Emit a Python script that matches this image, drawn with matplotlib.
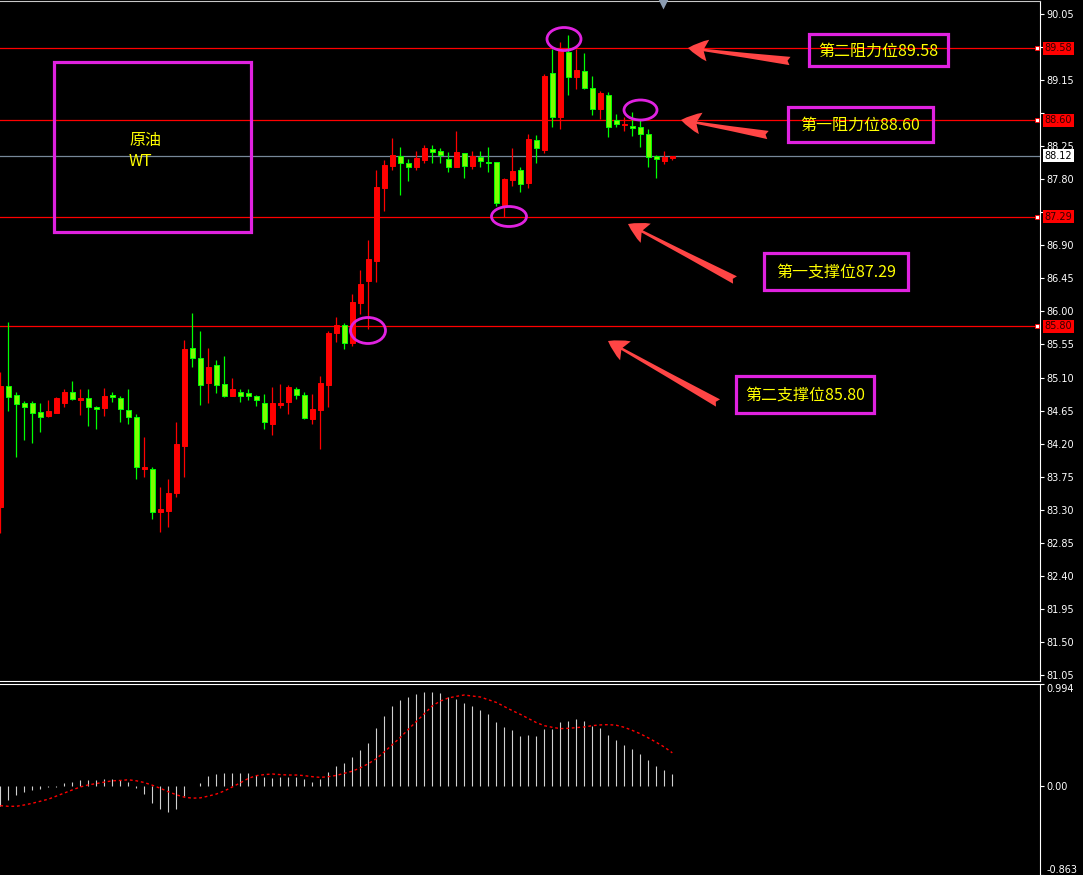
import matplotlib
matplotlib.use("Agg")
import matplotlib.pyplot as plt
from matplotlib.patches import Ellipse, Rectangle, FancyArrowPatch
import numpy as np

plt.rcParams['font.family'] = ['DejaVu Sans']
CJK = ['Noto Sans CJK SC', 'DejaVu Sans']

# OHLC (red = up, green = down)
opens = [83.34, 84.99, 84.86, 84.75, 84.75, 84.63, 84.58, 84.62, 84.75, 84.90,
         84.79, 84.82, 84.70, 84.68, 84.86, 84.82, 84.66, 84.57, 83.86, 83.86,
         83.27, 83.29, 83.53, 84.17, 85.50, 85.36, 85.02, 85.27, 85.01, 84.85,
         84.90, 84.89, 84.85, 84.76, 84.47, 84.73, 84.77, 84.95, 84.86, 84.54,
         84.66, 85.00, 85.70, 85.81, 85.57, 86.12, 86.41, 86.69, 87.68, 87.98,
         88.11, 88.02, 87.97, 88.06, 88.21, 88.18, 88.07, 87.96, 88.15, 87.98,
         88.10, 88.03, 88.03, 87.45, 87.79, 87.92, 87.75, 88.33, 88.19, 89.24,
         88.64, 89.53, 89.19, 89.27, 89.04, 88.75, 88.95, 88.60, 88.53, 88.52,
         88.51, 88.41, 88.11, 88.05, 88.09]
highs = [85.18, 85.86, 84.90, 84.78, 84.78, 84.75, 84.80, 84.83, 84.94, 85.05,
         84.94, 84.94, 84.71, 84.96, 84.90, 84.85, 84.94, 84.61, 84.29, 83.88,
         83.61, 83.72, 84.49, 85.61, 85.98, 85.73, 85.50, 85.34, 85.40, 85.10,
         84.95, 84.95, 84.86, 84.87, 84.97, 85.01, 85.00, 84.97, 84.90, 84.87,
         85.12, 85.74, 85.92, 85.84, 86.24, 86.57, 86.97, 87.92, 88.06, 88.36,
         88.24, 88.08, 88.18, 88.26, 88.26, 88.22, 88.17, 88.45, 88.15, 88.18,
         88.18, 88.24, 88.03, 87.82, 88.22, 87.96, 88.41, 88.40, 89.23, 89.57,
         89.66, 89.76, 89.57, 89.52, 89.20, 89.00, 88.98, 88.68, 88.65, 88.71,
         88.60, 88.48, 88.13, 88.18, 88.12]
lows = [82.99, 84.64, 84.02, 84.25, 84.21, 84.36, 84.56, 84.62, 84.70, 84.79,
        84.59, 84.44, 84.40, 84.58, 84.77, 84.50, 84.47, 83.72, 83.75, 83.18,
        83.00, 83.07, 83.48, 83.75, 85.25, 84.73, 84.75, 84.89, 84.84, 84.85,
        84.77, 84.79, 84.72, 84.40, 84.32, 84.69, 84.61, 84.81, 84.53, 84.47,
        84.13, 84.70, 85.59, 85.49, 85.53, 85.97, 85.76, 86.40, 87.36, 87.93,
        87.59, 87.78, 87.93, 88.02, 88.02, 88.02, 87.90, 87.96, 87.82, 87.94,
        87.97, 87.90, 87.44, 87.28, 87.70, 87.63, 87.68, 88.02, 88.15, 88.51,
        88.48, 88.95, 89.02, 89.03, 88.67, 88.62, 88.37, 88.51, 88.46, 88.39,
        88.24, 87.96, 87.82, 88.00, 88.06]
closes = [84.99, 84.84, 84.74, 84.70, 84.62, 84.57, 84.64, 84.82, 84.90, 84.81,
          84.82, 84.70, 84.67, 84.85, 84.83, 84.67, 84.56, 83.88, 83.88, 83.27,
          83.31, 83.53, 84.19, 85.49, 85.36, 85.00, 85.25, 85.00, 84.85, 84.94,
          84.85, 84.85, 84.80, 84.49, 84.75, 84.76, 84.97, 84.86, 84.55, 84.67,
          85.02, 85.70, 85.81, 85.57, 86.13, 86.37, 86.71, 87.69, 87.99, 88.13,
          88.02, 87.96, 88.09, 88.22, 88.17, 88.13, 87.97, 88.17, 87.98, 88.11,
          88.04, 88.02, 87.48, 87.80, 87.91, 87.74, 88.35, 88.22, 89.20, 88.64,
          89.54, 89.19, 89.28, 89.04, 88.75, 88.97, 88.51, 88.55, 88.55, 88.50,
          88.41, 88.10, 88.07, 88.10, 88.12]

# oscillator sub-window
osc_hist = [-0.192, -0.132, -0.083, -0.053, -0.033, -0.023, -0.003, -0.003, 0.036, 0.046,
            0.056, 0.056, 0.056, 0.066, 0.066, 0.056, 0.046, -0.013, -0.073, -0.162,
            -0.222, -0.252, -0.222, -0.093, 0.005, 0.036, 0.096, 0.116, 0.126, 0.126,
            0.126, 0.126, 0.106, 0.086, 0.076, 0.086, 0.086, 0.086, 0.066, 0.046,
            0.066, 0.136, 0.195, 0.225, 0.285, 0.354, 0.424, 0.563, 0.682, 0.781,
            0.841, 0.871, 0.901, 0.921, 0.921, 0.911, 0.871, 0.851, 0.811, 0.781,
            0.742, 0.702, 0.623, 0.573, 0.543, 0.493, 0.503, 0.493, 0.553, 0.553,
            0.623, 0.632, 0.652, 0.632, 0.583, 0.563, 0.503, 0.454, 0.404, 0.364,
            0.315, 0.255, 0.195, 0.156, 0.116]
osc_signal = [-0.189, -0.195, -0.195, -0.182, -0.166, -0.146, -0.126, -0.096, -0.066, -0.036,
              -0.007, 0.013, 0.026, 0.040, 0.053, 0.056, 0.063, 0.053, 0.036, 0.010,
              -0.020, -0.053, -0.083, -0.106, -0.116, -0.113, -0.096, -0.076, -0.046, -0.007,
              0.033, 0.076, 0.103, 0.113, 0.119, 0.113, 0.109, 0.109, 0.103, 0.093,
              0.086, 0.093, 0.105, 0.126, 0.146, 0.179, 0.219, 0.268, 0.334, 0.404,
              0.474, 0.553, 0.629, 0.705, 0.781, 0.828, 0.858, 0.874, 0.887, 0.877,
              0.868, 0.841, 0.815, 0.775, 0.735, 0.699, 0.659, 0.619, 0.589, 0.573,
              0.560, 0.563, 0.570, 0.576, 0.589, 0.596, 0.599, 0.593, 0.573, 0.543,
              0.510, 0.470, 0.427, 0.381, 0.325]

price_ticks = [90.05, 89.60, 89.15, 88.70, 88.25, 87.80, 87.35, 86.90, 86.45, 86.00, 85.55,
               85.10, 84.65, 84.20, 83.75, 83.30, 82.85, 82.40, 81.95, 81.50, 81.05]
hidden_ticks = [89.60, 88.70, 87.35]   # covered by the level labels
level_values = [89.58, 88.60, 87.29, 85.80]
level_names = ["第二阻力位89.58", "第一阻力位88.60", "第一支撑位87.29", "第二支撑位85.80"]
last_price = 88.12
osc_min, osc_max = -0.863, 0.994

W, H = 1083, 875
fig = plt.figure(figsize=(W / 100, H / 100), dpi=100, facecolor='black')
ax = fig.add_axes([0, 1 - 681 / H, 1040 / W, 680 / H], facecolor='black')
ax2 = fig.add_axes([0, 0, 1040 / W, 191 / H], facecolor='black')

n = len(opens)
x = np.arange(n)
o = np.array(opens); c = np.array(closes)
up = c >= o
col = np.where(up, '#ff0000', '#00ff00')
face = np.where(up, '#ff0000', '#7cfc00')

ax.vlines(x, lows, highs, colors=col, lw=0.9, zorder=3)
bottoms = np.minimum(o, c)
heights = np.maximum(np.abs(c - o), 0.012)
ax.bar(x, heights, bottom=bottoms, width=0.55, color=face, edgecolor=col, lw=0.7, zorder=4)

for v in level_values:
    ax.axhline(v, color='#ff0000', lw=0.9, zorder=2)
ax.axhline(last_price, color='#778899', lw=0.9, zorder=2)

ax.set_xlim(-0.0375, 129.96)
ax.set_ylim(80.972, 90.223)
ax.set_xticks([])
ax.yaxis.tick_right()
ax.set_yticks(price_ticks)
ax.set_yticklabels(["" if t in hidden_ticks else f"{t:.2f}" for t in price_ticks])
ax.tick_params(axis='y', colors='white', length=3, width=0.8, labelsize=7, pad=1.5)
ax.spines['left'].set_visible(False)
ax.spines['right'].set_color('white')
ax.spines['bottom'].set_color('white')
ax.spines['top'].set_color('#c8c8c8')

ytr = ax.get_yaxis_transform()
for v in level_values:
    ax.text(1.0045, v, f"{v:.2f}", transform=ytr, fontsize=7, color='#300000',
            ha='left', va='center', zorder=10, clip_on=False,
            bbox=dict(boxstyle='square,pad=0.15', fc='#ff0000', ec='none'))
    ax.plot([0.9975], [v], marker='s', ms=3, mfc='white', mec='#ff0000', mew=0.6,
            transform=ytr, clip_on=False, zorder=10)
ax.text(1.0045, last_price, f"{last_price:.2f}", transform=ytr, fontsize=7, color='black',
        ha='left', va='center', zorder=10, clip_on=False,
        bbox=dict(boxstyle='square,pad=0.15', fc='white', ec='none'))

# sub window
ax2.vlines(x, 0, osc_hist, colors='#d0d0d0', lw=0.8)
ax2.plot(x, osc_signal, color='#ff0000', lw=1.0, ls=(0, (2, 2)))
ax2.set_xlim(-0.0375, 129.96)
ax2.set_ylim(osc_min, osc_max)
ax2.set_xticks([])
ax2.yaxis.tick_right()
ax2.set_yticks([osc_max, 0, osc_min])
ax2.set_yticklabels([f"{osc_max:.3f}", "0.00", f"{osc_min:.3f}"])
ax2.tick_params(axis='y', colors='white', length=3, width=0.8, labelsize=7, pad=1.5)
labs = ax2.get_yticklabels()
labs[0].set_va('top')
labs[2].set_va('bottom')
for s in ['left', 'bottom']:
    ax2.spines[s].set_visible(False)
ax2.spines['right'].set_color('white')
ax2.spines['top'].set_color('white')

# annotation overlay in pixel space
ov = fig.add_axes([0, 0, 1, 1], facecolor='none')
ov.set_xlim(0, W)
ov.set_ylim(H, 0)
ov.axis('off')
mag = '#e022e0'
yellow = '#ffff00'

ov.add_patch(Rectangle((53.5, 61.5), 197, 170, fill=False, ec=mag, lw=2.3))
ov.text(129, 140, "原油", family=CJK, fontsize=11.5, color=yellow, ha='left', va='center')
ov.text(129, 161, "WT", family=CJK, fontsize=11.5, color=yellow, ha='left', va='center')

boxes = [(809, 34, 139, 32), (788, 107, 145, 35), (764, 253, 144, 37), (736, 376, 138, 37)]
for (bx, by, bw, bh), name in zip(boxes, level_names):
    ov.add_patch(Rectangle((bx, by), bw, bh, fill=False, ec=mag, lw=2.3))
    ov.text(bx + bw / 2, by + bh / 2 + 1, name, family=CJK, fontsize=11.5, color=yellow,
            ha='center', va='center')

arrows = [((790, 61), (688, 48)), ((768, 135), (681, 120)),
          ((735, 280), (628, 224)), ((718, 403), (608, 341))]
for tail, tip in arrows:
    ov.add_patch(FancyArrowPatch(tail, tip, arrowstyle='fancy,head_length=1.2,head_width=1.3,tail_width=0.5',
                                 mutation_scale=12, color='#ff4545', lw=0, shrinkA=0, shrinkB=0))

for cx, cy, ew, eh in [(564, 39, 34, 23), (640.5, 110, 33, 20), (509, 216.5, 35, 20), (368, 330.5, 35, 26)]:
    ov.add_patch(Ellipse((cx, cy), ew, eh, fill=False, ec=mag, lw=2.0))

ov.plot([663], [4], marker='v', ms=7, color='#8a9bb0', mec='none')

fig.savefig('out.png', dpi=100, facecolor='black')
